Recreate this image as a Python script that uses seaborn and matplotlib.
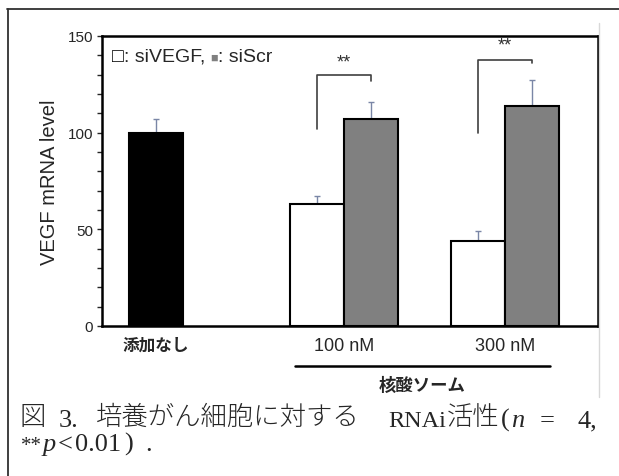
import numpy as np
import pandas as pd
import seaborn as sns
import matplotlib.pyplot as plt
from matplotlib.lines import Line2D
from matplotlib.offsetbox import TextArea, HPacker, AnnotationBbox

# data
groups = ['添加なし', '100 nM', '300 nM']
treatments = ['なし', 'siVEGF', 'siScr', 'siVEGF', 'siScr']
values = [100, 63, 107, 44, 114]
errors = [7, 4, 9, 5, 13]

# layout: bar slot on the x axis (white and grey bars touch each other)
slots = [1, 4, 5, 7, 8]
group_centers = [1, 4.5, 7.5]

# significance brackets: (x left, x right, y left, y top, y right, y of stars)
brackets = [(4, 5, 102, 130, 126.5, 136.5),
            (7, 8, 100, 137.7, 136, 145.5)]

sns.set_style('ticks')
plt.rcParams['font.family'] = ['Liberation Sans', 'Noto Sans CJK JP', 'DejaVu Sans']

colors = {'なし': '#000000', 'siVEGF': '#ffffff', 'siScr': '#808080'}
df = pd.DataFrame({'pos': slots, 'treatment': treatments, 'value': values})

W, H = 619, 477
fig = plt.figure(figsize=(W / 100, H / 100), dpi=100)
ax = fig.add_axes([102 / W, 1 - 327 / H, 496 / W, 290 / H])

sns.barplot(data=df, x='pos', y='value', hue='treatment', palette=colors,
            native_scale=True, dodge=False, width=1.0, edgecolor='black',
            linewidth=1.5, errorbar=None, legend=False, ax=ax)

# upper error bars only
ax.errorbar(slots, values, yerr=[np.zeros(len(errors)), errors], fmt='none',
            ecolor='#7a86a6', elinewidth=1.0, capsize=2.5, capthick=1.0, zorder=0.5)

ax.set_xlim(0, 9.23)
ax.set_ylim(0, 150)
ax.set_yticks([0, 50, 100, 150])
ax.set_yticks(np.arange(0, 151, 10), minor=True)
ax.tick_params(axis='y', which='both', direction='out', length=3.5, width=1,
               labelsize=11, pad=3)
ax.set_xticks(group_centers)
ax.set_xticklabels(groups, fontsize=13)
ax.tick_params(axis='x', length=0, pad=8)
ax.get_xticklabels()[0].set_fontweight('bold')
ax.get_xticklabels()[0].set_fontsize(12)
ax.set_xlabel('')
ax.set_ylabel('VEGF mRNA level', fontsize=14.5, labelpad=6)
for sp in ax.spines.values():
    sp.set_visible(True)
    sp.set_color('black')
    sp.set_linewidth(1.8)

# brackets and stars
for x0, x1, y0, ytop, y1, ystar in brackets:
    ax.plot([x0, x0, x1, x1], [y0, ytop, ytop, y1], color='#404040', lw=1.2,
            clip_on=False)
    ax.text((x0 + x1) / 2, ystar, '**', ha='center', va='center',
            fontsize=13, color='#303030')

# legend written as text
legend_box = HPacker(children=[
    TextArea('□', textprops=dict(fontsize=14, color='black')),
    TextArea(': siVEGF, ', textprops=dict(fontsize=14)),
    TextArea('■', textprops=dict(fontsize=9, color='#808080')),
    TextArea(': siScr', textprops=dict(fontsize=14)),
], align='baseline', pad=0, sep=0)
ax.add_artist(AnnotationBbox(legend_box, (0.02, 0.93), xycoords='axes fraction',
                             box_alignment=(0, 0.5), frameon=False))

# line under the nucleic acid some group
xt = ax.get_xaxis_transform()
ax.plot([3.59, 8.34], [-0.138, -0.138], color='black', lw=1.8, transform=xt,
        clip_on=False)
ax.text(5.96, -0.2, '核酸ソーム', transform=xt, ha='center', va='center',
        fontsize=12.5, fontweight='bold')

# outer frame of the scanned figure
fig.add_artist(Line2D([8 / W, 8 / W], [0, 1 - 9.5 / H], color='#303030', lw=1.3))
fig.add_artist(Line2D([7 / W, 1], [1 - 9.5 / H, 1 - 9.5 / H], color='#303030', lw=1.3))
fig.add_artist(Line2D([599 / W, 599 / W], [1 - 24 / H, 1 - 398 / H],
                      color='#d8d8d8', lw=1))

# caption, set piece by piece like the typeset original
serif = ['Liberation Serif', 'DejaVu Serif']
latin = dict(fontsize=19, family=serif)
latin_sm = dict(fontsize=17.5, family=serif)
latin_it = dict(latin, style='italic')
stars = dict(fontsize=15, family=serif)
cjk = dict(fontsize=19, family=['Noto Sans CJK JP'], weight='light')
caption = [
    (20, 427, '図', cjk), (59, 427, '3.', latin),
    (96, 427, '培養がん細胞に対する', cjk), (388, 427, 'RNAi', latin_sm),
    (447, 427, '活性', cjk), (501, 427, '(', latin), (511, 427, 'n', latin_it),
    (540, 427, '=', latin), (577, 427, '4,', latin),
    (21, 451, '**', stars), (43, 451, 'p', latin_it), (58, 451, '<', latin),
    (75, 451, '0.01', latin), (124, 451, ')', latin), (145, 451, '.', latin),
]
for x, y, s, props in caption:
    shift = 2 if props is cjk else 0
    fig.text(x / W, 1 - (y - shift) / H, s, ha='left', va='baseline', **props)

fig.savefig('out.png', dpi=100)
